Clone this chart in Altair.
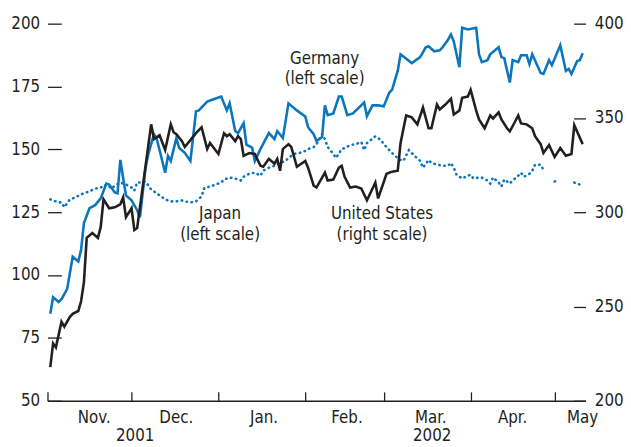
import altair as alt
import pandas as pd

# ---- data (day offsets from 1 Nov 2001, index values) ----
germany_day = [1,2,4,5,7,9,11,12,13,15,17,19,21,22,24,25,26,27,28,30,32,33,35,36,38,39,42,43,44,46,
               47,49,51,53,54,57,59,62,64,65,67,68,70,71,73,74,76,79,81,82,84,86,89,92,93,95,96,98,99,100,
               102,104,105,107,109,113,114,116,118,120,122,123,125,126,130,133,135,136,138,140,
               141,143,144,145,147,148,150,153,154,155,157,158,161,162,163,165,166,168,169,171,
               172,173,176,177,179,180,183,185,186,187,189,190,191]
germany_val = [84.6,91.2,89.3,90.4,94.4,107.3,105.4,110.1,120.7,126.6,127.8,130.5,136.4,136.0,132.9,132.5,145.8,138.7,131.7,129.7,
               125.8,123.0,142.7,148.2,156.0,154.1,140.7,147.4,145.4,154.5,150.5,148.6,145.4,165.1,165.5,169.0,169.8,171.0,165.5,168.3,
               157.3,156.5,160.4,151.9,150.7,145.4,150.1,156.5,154.1,157.3,154.5,168.3,165.5,163.1,158.8,156.0,153.3,154.9,167.5,163.6,
               164.3,171.0,171.0,163.6,164.3,168.6,163.2,167.5,167.5,167.1,172.6,173.8,181.3,187.8,184.3,186.7,190.6,191.0,189.0,189.4,
               190.6,193.7,195.7,192.9,182.7,198.4,197.7,198.4,187.8,184.7,185.5,187.8,190.6,186.7,186.3,176.6,185.5,184.7,187.4,187.4,
               183.9,187.8,180.4,180.0,185.5,183.5,191.4,181.2,182.0,180.0,185.1,185.5,188.2]

us_day = [1,2,3,5,6,8,9,11,12,13,14,16,18,19,20,22,24,26,27,28,30,31,32,37,38,40,42,44,45,46,
          48,49,51,53,55,57,58,61,63,64,65,67,68,69,70,72,74,76,77,79,81,82,83,84,86,87,89,92,93,95,
          96,99,100,102,104,105,106,108,110,112,114,117,118,121,123,125,126,128,130,132,134,136,137,139,140,142,144,145,147,148,
          150,151,153,154,156,158,159,161,162,164,165,166,168,169,171,173,174,176,177,179,181,183,185,187,188,191]
us_val = [217.8,230.4,228.3,241.9,239.3,244.5,246.1,247.6,252.9,262.8,286.4,289.0,286.4,292.2,306.8,302.1,302.6,304.2,307.9,297.4,
          302.1,290.6,291.6,346.6,338.8,340.8,333.0,346.6,342.4,341.4,337.7,334.6,338.2,341.9,345.0,333.5,336.7,330.9,341.9,340.3,
          341.4,337.7,340.3,338.8,329.9,331.4,330.9,324.6,324.1,328.3,325.7,328.3,322.0,333.5,336.1,334.6,324.1,327.2,323.6,314.1,
          313.1,321.0,316.8,317.3,323.6,324.6,318.9,313.1,313.6,312.6,306.3,315.7,307.3,320.4,321.5,322.0,336.7,351.3,350.3,346.6,
          355.5,344.5,344.5,357.1,354.5,357.1,360.2,351.8,353.9,360.7,361.3,364.9,353.9,349.2,344.5,351.3,349.7,352.9,349.2,344.5,
          342.9,345.6,351.3,347.1,346.6,344.5,340.3,336.1,331.4,335.6,329.3,334.0,329.9,330.9,346.1,336.1]

japan_day = [1,4,5,6,8,10,12,15,17,19,21,23,24,26,28,30,31,32,33,35,37,39,40,42,44,46,48,49,51,53,
             55,56,58,60,62,63,65,67,69,70,72,74,76,77,79,81,83,85,86,88,90,92,93,95,96,98,99,100,102,103,
             105,106,108,110,112,113,114,117,119,120,122,124,126,127,129,131,133,134,136,137,
             139,141,143,144,145,146,148,150,151,152,154,155,157,158,159,161,162,163,165,166,
             168,169,170,172,173,174,176,177,179,181,182,185,188,190,191]
japan_val = [130.1,128.9,128.9,127.0,130.1,130.9,132.1,133.3,134.4,134.8,136.0,134.4,135.6,136.8,136.0,134.8,133.6,136.8,136.8,137.2,
             134.0,132.5,131.7,130.1,129.3,129.3,129.7,129.3,128.9,129.3,131.3,134.8,135.2,136.0,136.8,138.0,138.8,138.4,137.6,139.1,
             140.3,140.7,139.5,141.5,142.7,143.5,144.6,145.4,146.6,148.2,148.6,149.4,150.1,150.9,152.1,156.0,154.1,150.9,148.2,146.6,
             150.1,150.5,151.7,152.1,152.9,149.7,152.5,155.2,153.7,152.1,149.7,147.4,145.8,145.4,149.7,147.4,145.4,142.7,145.8,144.6,
             143.9,143.5,143.5,144.6,142.7,139.9,138.4,139.5,139.9,138.4,138.8,138.8,137.6,136.4,138.8,136.8,135.2,138.0,136.4,137.6,
             139.5,140.7,139.1,140.3,141.5,143.9,143.9,141.9,None,137.2,137.6,None,136.8,136.0,136.4]

left_ticks = [50, 75, 100, 125, 150, 175, 200]
right_ticks = [200, 250, 300, 350, 400]
month_start_day = [0, 30, 61, 92, 120, 151, 181]
month_label_day = [16.5, 45.8, 77.1, 106.7, 136.6, 165.8, 190.8]
month_names = ["Jan.", "Feb.", "Mar.", "Apr.", "May", "Jun.", "Jul.", "Aug.", "Sep.", "Oct.", "Nov.", "Dec."]
year_day = [31.3, 137.3]
year_text = ["2001", "2002"]
left_label_day = [98.9, 61.6]
left_label_val = [184.1, 122.3]
left_label_text = ["Germany\n(left scale)", "Japan\n(left scale)"]
us_label_day = [119.4]
us_label_val = [296.3]
us_label_text = ["United States\n(right scale)"]

START = pd.Timestamp("2001-11-01")
END_DAY = 192
BLUE = "#0b76bc"
DARK = "#231f20"
FONT = "'Liberation Sans Narrow', 'DejaVu Sans Condensed', 'Liberation Sans', sans-serif"
FS = 17


def to_dates(days):
    return START + pd.to_timedelta(days, unit="D")


def to_dt(day):
    t = START + pd.to_timedelta(day, unit="D")
    return alt.DateTime(year=t.year, month=t.month, date=t.day, hours=t.hour, minutes=t.minute)


ger = pd.DataFrame({"date": to_dates(germany_day), "value": germany_val})
us = pd.DataFrame({"date": to_dates(us_day), "value": us_val})
jp = pd.DataFrame({"date": to_dates(japan_day), "value": pd.array(japan_val, dtype="Float64").astype(float)})
jp["seg"] = jp["value"].isna().cumsum()
jp = jp.dropna().reset_index(drop=True)

lbl_left = pd.DataFrame({"date": to_dates(left_label_day), "value": left_label_val, "label": left_label_text})
lbl_us = pd.DataFrame({"date": to_dates(us_label_day), "value": us_label_val, "label": us_label_text})
years = pd.DataFrame({"date": to_dates(year_day), "label": year_text})

xscale = alt.Scale(domain=[to_dt(0), to_dt(END_DAY)])

axis_labels = alt.Axis(orient="bottom", values=[to_dt(d) for d in month_label_day],
                       labelExpr="%s[month(datum.value)]" % str(month_names),
                       ticks=False, domain=True, domainColor=DARK, domainWidth=1.3,
                       labelPadding=9, grid=False, title=None)
axis_ticks = alt.Axis(orient="bottom", values=[to_dt(d) for d in month_start_day],
                      labels=False, domain=False, ticks=True, tickSize=9, offset=-9,
                      tickColor=DARK, tickWidth=1.3, grid=False, title=None)
axis_left = alt.Axis(orient="left", values=left_ticks, domain=False, tickSize=14, offset=-14,
                     labelPadding=8, tickColor=DARK, tickWidth=1.3, grid=False, title=None)
axis_right = alt.Axis(orient="right", values=right_ticks, domain=False, tickSize=12, offset=-12,
                      labelPadding=9, tickColor=DARK, tickWidth=1.3, grid=False, title=None)

x_main = alt.X("date:T", scale=xscale, axis=axis_labels)
x_tick = alt.X("date:T", scale=xscale, axis=axis_ticks)
y_left = alt.Y("value:Q", scale=alt.Scale(domain=[50, 200], nice=False, zero=False), axis=axis_left)
y_right = alt.Y("value:Q", scale=alt.Scale(domain=[200, 400], nice=False, zero=False), axis=axis_right)

text_style = dict(font=FONT, fontSize=FS, color=DARK, lineBreak="\n", align="center",
                  baseline="alphabetic", lineHeight=21)

ger_line = alt.Chart(ger).mark_line(color=BLUE, strokeWidth=2.6, strokeJoin="miter").encode(x=x_main, y=y_left)
jp_line = alt.Chart(jp).mark_line(color=BLUE, strokeWidth=2.6, strokeDash=[0.5, 4.6], strokeCap="round").encode(
    x=x_main, y=y_left, detail="seg:N")
left_text = alt.Chart(lbl_left).mark_text(**text_style).encode(x=x_main, y=y_left, text="label:N")
year_marks = alt.Chart(years).mark_text(**text_style).encode(x=x_main, y=alt.value(423), text="label:N")
left = alt.layer(jp_line, ger_line, left_text, year_marks)

us_line = alt.Chart(us).mark_line(color=DARK, strokeWidth=2.6).encode(x=x_tick, y=y_right)
us_text = alt.Chart(lbl_us).mark_text(**text_style).encode(x=x_tick, y=y_right, text="label:N")
right = alt.layer(us_line, us_text)

chart = (
    alt.layer(left, right)
    .resolve_scale(y="independent")
    .resolve_axis(x="independent", y="independent")
    .properties(width=545, height=382,
                padding={"left": 40, "top": 13, "right": 38, "bottom": 45},
                autosize=alt.AutoSizeParams(type="none"))
    .configure_view(stroke=None)
    .configure_axis(labelFont=FONT, labelFontSize=FS, labelColor=DARK)
)

chart.save("out.html", embed_options={"renderer": "svg", "actions": False})
